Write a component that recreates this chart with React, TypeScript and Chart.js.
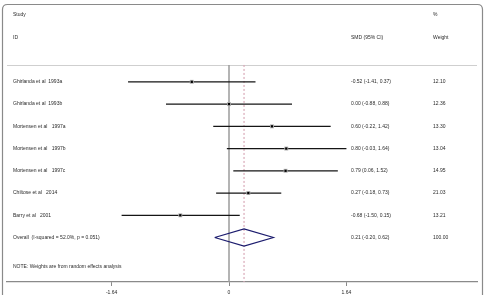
import React, { useEffect, useRef } from "react";
import { Chart, registerables } from "chart.js";

Chart.register(...registerables);

// ---- data ----
const studies = [
  "Ghirlanda et al  1993a",
  "Ghirlanda et al  1993b",
  "Mortensen et al   1997a",
  "Mortensen et al   1997b",
  "Mortensen et al   1997c",
  "Chiltose et al   2014",
  "Barry et al   2001",
];
const smd = [-0.52, 0.0, 0.6, 0.8, 0.79, 0.27, -0.68];
const ciLow = [-1.41, -0.88, -0.22, -0.03, 0.06, -0.18, -1.5];
const ciHigh = [0.37, 0.88, 1.42, 1.64, 1.52, 0.73, 0.15];
const weights = ["12.10", "12.36", "13.30", "13.04", "14.95", "21.03", "13.21"];
const overallLabel = "Overall  (I-squared = 52.0%, p = 0.051)";
const overallSmd = 0.21;
const overallLow = -0.2;
const overallHigh = 0.62;
const overallWeight = "100.00";
const xTicks = [-1.64, 0, 1.64];
const noteText = "NOTE: Weights are from random effects analysis";

const fmt = (v: number) => v.toFixed(2);
const effectText = smd.map((v, i) => `${fmt(v)} (${fmt(ciLow[i])}, ${fmt(ciHigh[i])})`);
const overallText = `${fmt(overallSmd)} (${fmt(overallLow)}, ${fmt(overallHigh)})`;

const FONT = "5px 'Liberation Sans', Arial, sans-serif";
const TEXT_COLOR = "#2a2a2a";
const SEP_ROW = -0.76;
const AXIS_ROW = 9;
const OVERALL_ROW = studies.length;
const DIAMOND_H = 0.39;

const forestPlugin = {
  id: "forestText",
  beforeDraw(chart: any) {
    const ctx = chart.ctx;
    ctx.save();
    // outer frame
    ctx.strokeStyle = "#8a8a8a";
    ctx.lineWidth = 1.2;
    const x0 = 2.5, y0 = 4.5, x1 = 482.5, y1 = 310, r = 5;
    ctx.beginPath();
    ctx.moveTo(x0 + r, y0);
    ctx.lineTo(x1 - r, y0);
    ctx.quadraticCurveTo(x1, y0, x1, y0 + r);
    ctx.lineTo(x1, y1);
    ctx.lineTo(x0, y1);
    ctx.lineTo(x0, y0 + r);
    ctx.quadraticCurveTo(x0, y0, x0 + r, y0);
    ctx.stroke();
    // separator line
    const ys = chart.scales.y;
    const area = chart.chartArea;
    const sy = Math.round(ys.getPixelForValue(SEP_ROW)) + 0.5;
    ctx.strokeStyle = "#cfcfcf";
    ctx.lineWidth = 1;
    ctx.beginPath();
    ctx.moveTo(area.left, sy);
    ctx.lineTo(area.right, sy);
    ctx.stroke();
    ctx.restore();
  },
  afterDraw(chart: any) {
    const ctx = chart.ctx;
    const ys = chart.scales.y;
    ctx.save();
    ctx.font = FONT;
    ctx.fillStyle = TEXT_COLOR;
    ctx.textBaseline = "middle";
    ctx.textAlign = "left";
    const nameX = 13;
    const effX = 351;
    const wX = 433;
    const py = (row: number) => ys.getPixelForValue(row);
    ctx.fillText("Study", nameX, py(-3));
    ctx.fillText("ID", nameX, py(-2));
    ctx.fillText("SMD (95% CI)", effX, py(-2));
    ctx.fillText("%", wX, py(-3));
    ctx.fillText("Weight", wX, py(-2));
    studies.forEach((s, i) => {
      ctx.fillText(s, nameX, py(i));
      ctx.fillText(effectText[i], effX, py(i));
      ctx.fillText(weights[i], wX, py(i));
    });
    ctx.fillText(overallLabel, nameX, py(OVERALL_ROW));
    ctx.fillText(overallText, effX, py(OVERALL_ROW));
    ctx.fillText(overallWeight, wX, py(OVERALL_ROW));
    ctx.fillText(noteText, nameX, py(8.29));
    ctx.restore();
  },
};

export default function App() {
  const ref = useRef<HTMLCanvasElement | null>(null);

  useEffect(() => {
    if (!ref.current) return;
    const datasets: any[] = [];
    // point estimates (on top)
    datasets.push({
      data: smd.map((v, i) => ({ x: v, y: i })),
      pointStyle: "rect",
      pointRadius: 1.6,
      backgroundColor: "#000",
      borderColor: "#000",
      borderWidth: 0,
      showLine: false,
    });
    // weight boxes
    datasets.push({
      data: smd.map((v, i) => ({ x: v, y: i })),
      pointStyle: "rect",
      pointRadius: 2.8,
      backgroundColor: "#b5b5b5",
      borderColor: "#b5b5b5",
      borderWidth: 0,
      showLine: false,
    });
    // confidence intervals
    studies.forEach((_, i) => {
      datasets.push({
        data: [
          { x: ciLow[i], y: i },
          { x: ciHigh[i], y: i },
        ],
        showLine: true,
        borderColor: "#151515",
        borderWidth: 1.3,
        pointRadius: 0,
      });
    });
    // overall diamond
    datasets.push({
      data: [
        { x: overallLow, y: OVERALL_ROW },
        { x: overallSmd, y: OVERALL_ROW - DIAMOND_H },
        { x: overallHigh, y: OVERALL_ROW },
        { x: overallSmd, y: OVERALL_ROW + DIAMOND_H },
        { x: overallLow, y: OVERALL_ROW },
      ],
      showLine: true,
      borderColor: "#1c1c6e",
      borderWidth: 1.2,
      pointRadius: 0,
      tension: 0,
    });
    // overall dashed line
    datasets.push({
      data: [
        { x: overallSmd, y: SEP_ROW },
        { x: overallSmd, y: AXIS_ROW },
      ],
      showLine: true,
      borderColor: "#d9a9b8",
      borderDash: [2, 2],
      borderWidth: 1.2,
      pointRadius: 0,
    });
    // null line
    datasets.push({
      data: [
        { x: 0, y: SEP_ROW },
        { x: 0, y: AXIS_ROW },
      ],
      showLine: true,
      borderColor: "#9c9c9c",
      borderWidth: 1.5,
      pointRadius: 0,
    });

    const chart = new Chart(ref.current, {
      type: "scatter",
      data: { datasets },
      options: {
        animation: false,
        responsive: false,
        devicePixelRatio: 1,
        layout: { padding: { left: 7, right: 10, top: 2, bottom: 0 } },
        plugins: { legend: { display: false }, tooltip: { enabled: false } },
        scales: {
          x: {
            type: "linear",
            min: -3.1006,
            max: 3.4637,
            afterBuildTicks: (s: any) => {
              s.ticks = xTicks.map((v) => ({ value: v }));
            },
            afterFit: (s: any) => {
              s.height = 13;
            },
            ticks: {
              autoSkip: false,
              maxRotation: 0,
              padding: 3.5,
              color: TEXT_COLOR,
              font: { size: 5, family: "'Liberation Sans', Arial, sans-serif" },
              callback: (v: any) => String(v),
            },
            grid: {
              drawOnChartArea: false,
              drawTicks: true,
              tickLength: 4,
              color: "#8a8a8a",
              lineWidth: 1,
            },
            border: { color: "#8a8a8a", width: 1.2 },
          },
          y: {
            type: "linear",
            reverse: true,
            min: -3.5,
            max: 9,
            display: false,
          },
        },
      },
      plugins: [forestPlugin],
    });
    return () => chart.destroy();
  }, []);

  return (
    <div style={{ position: "fixed", left: 0, top: 0, width: 487, height: 295, background: "#fff" }}>
      <canvas ref={ref} width={487} height={295} style={{ display: "block" }} />
    </div>
  );
}
